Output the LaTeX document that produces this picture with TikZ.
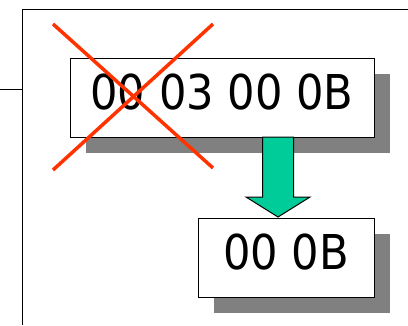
\documentclass[tikz,border=0pt]{standalone}
\usepackage{fontspec}
\setmainfont{DejaVu Sans Condensed}
\usepackage{tikz}
\usetikzlibrary{shadows}
\definecolor{crossred}{HTML}{FF3300}
\definecolor{arrowgreen}{HTML}{00CC99}

\begin{document}
\begin{tikzpicture}[x=1pt,y=-1pt,line width=1pt,
    bytebox/.style={draw, fill=white, inner sep=0pt, font=\fontsize{48}{48}\selectfont,
      text depth=12pt, minimum height=79pt,
      drop shadow={shadow xshift=16pt, shadow yshift=-16pt, fill=gray, opacity=1}}]
        \useasboundingbox (0,0) rectangle (408,325);
        \draw (0,89) -- (22,89);
        \draw (22,325) -- (22,9) -- (408,9);
        \node[bytebox, minimum width=304pt] (full) at (222,97.5) {00 03 00 0B};
        \node[bytebox, minimum width=176pt] (short) at (286,257.5) {00 0B};
        \coordinate (top) at (278,137);
        \coordinate (tip) at (278,217);
        \draw[fill=arrowgreen] ([xshift=-15.5pt]top) -- ([xshift=15.5pt]top)
            -- ([xshift=15.5pt,yshift=20pt]tip) -- ([xshift=32pt,yshift=20pt]tip)
            -- (tip) -- ([xshift=-32pt,yshift=20pt]tip)
            -- ([xshift=-15.5pt,yshift=20pt]tip) -- cycle;
        \draw[crossred, line width=3.5pt] (53,24) -- (213,168);
        \draw[crossred, line width=3.5pt] (213,24) -- (53,170);
    \end{tikzpicture}
\end{document}
